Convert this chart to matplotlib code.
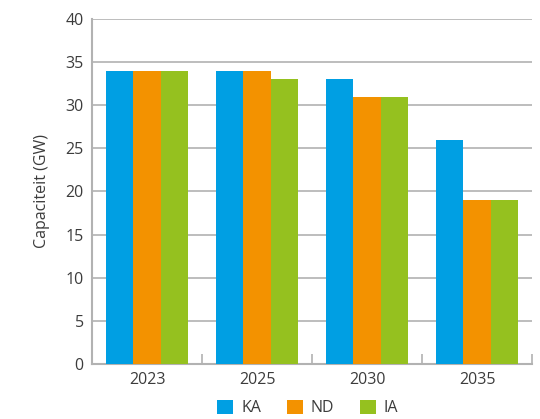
import numpy as np
import matplotlib.pyplot as plt

plt.rcParams['font.family'] = ['Open Sans', 'DejaVu Sans']

years = ['2023', '2025', '2030', '2035']
ka = [34, 34, 33, 26]
nd = [34, 34, 31, 19]
ia = [34, 33, 31, 19]
series_names = ['KA', 'ND', 'IA']
colors = ['#009fe3', '#f39200', '#95c11f']

fs = 11.5
txt = '#3c3c3c'

fig = plt.figure(figsize=(5.4, 4.19), dpi=100)
ax = fig.add_axes([0.1704, 0.1313, 0.8148, 0.8234])

x = np.arange(len(years))
w = 0.25
for i, (vals, name, c) in enumerate(zip([ka, nd, ia], series_names, colors)):
    ax.bar(x + (i - 1) * w, vals, width=w, color=c, label=name, zorder=3)

ax.set_xlim(-0.5, len(years) - 0.5)
ax.set_ylim(0, 40)
ax.set_yticks(range(0, 41, 5))
ax.yaxis.grid(True, color='#b2b2b2', linewidth=1.2, zorder=0)
ax.set_xticks(x)
ax.set_xticklabels(years)
ax.set_xticks(np.arange(0.5, len(years), 1), minor=True)
ax.tick_params(axis='x', which='major', length=0, pad=6, labelsize=fs, colors=txt)
ax.tick_params(axis='x', which='minor', direction='in', length=7, width=1.2, color='#b2b2b2')
ax.tick_params(axis='y', length=0, pad=6, labelsize=fs, colors=txt)

for s in ['top', 'right']:
    ax.spines[s].set_visible(False)
for s in ['left', 'bottom']:
    ax.spines[s].set_color('#b2b2b2')
    ax.spines[s].set_linewidth(1.5)

ax.set_ylabel('Capaciteit (GW)', fontsize=fs, color=txt, labelpad=11)

ax.legend(loc='upper center', bbox_to_anchor=(0.49, -0.085), ncol=3, frameon=False,
          fontsize=fs, handlelength=1.0, handleheight=1.0, columnspacing=1.6,
          handletextpad=0.5, labelcolor=txt, borderaxespad=0)

fig.savefig('out.png', dpi=100)
